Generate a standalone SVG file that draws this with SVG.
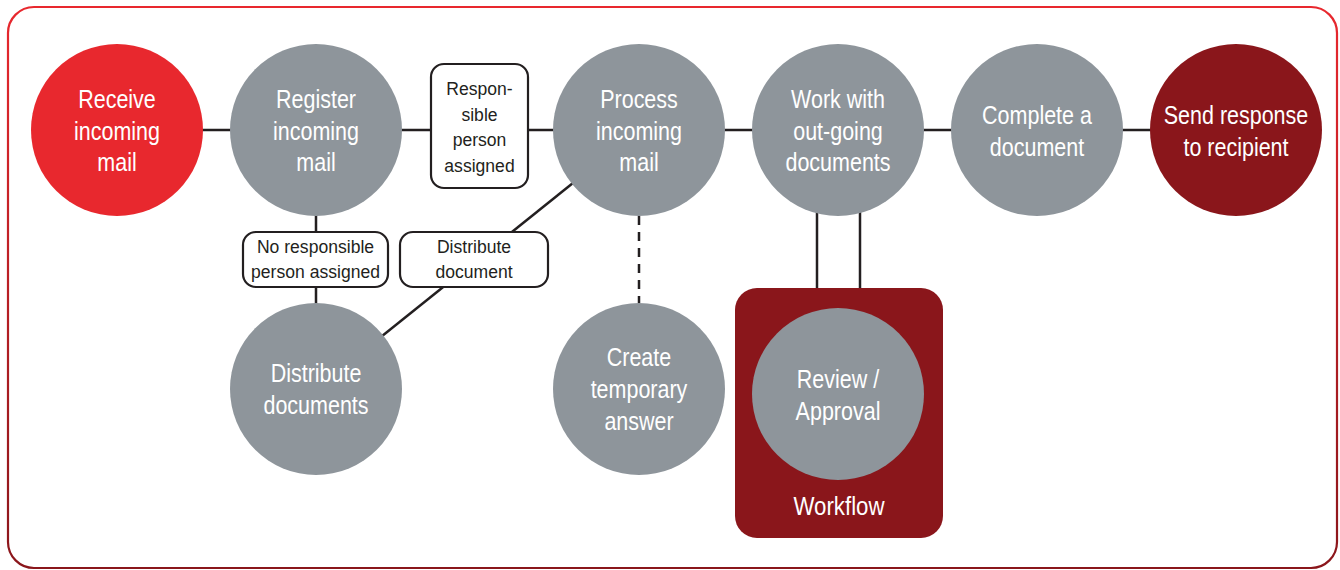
<svg xmlns="http://www.w3.org/2000/svg" width="1340" height="570" viewBox="0 0 1340 570">
  <defs>
    <linearGradient id="frameGrad" x1="0" y1="0" x2="0" y2="1">
      <stop offset="0" stop-color="#e8282e"/>
      <stop offset="1" stop-color="#8a161b"/>
    </linearGradient>
    <style>
      .frame { fill: #ffffff; stroke: url(#frameGrad); stroke-width: 2.2; }
      .wire { stroke: #231f20; stroke-width: 2.5; fill: none; }
      .dash { stroke: #231f20; stroke-width: 2.5; fill: none; stroke-dasharray: 9 7; }
      .grey { fill: #8e959b; }
      .red { fill: #e8282e; }
      .dark { fill: #8a161b; }
      .tag { fill: #ffffff; stroke: #231f20; stroke-width: 2.2; }
      .ct { font-family: "Liberation Sans", Arial, sans-serif; font-size: 25px; fill: #ffffff; text-anchor: middle; }
      .lt { font-family: "Liberation Sans", Arial, sans-serif; font-size: 18.5px; fill: #231f20; text-anchor: middle; }
    </style>
  </defs>

  <rect class="frame" x="8" y="7" width="1329" height="561" rx="26" ry="26"/>

  <!-- connectors -->
  <g id="connectors">
    <line class="wire" x1="117" y1="130" x2="1236" y2="130"/>
    <line class="wire" x1="316" y1="130" x2="316" y2="389"/>
    <line class="wire" x1="639" y1="130" x2="316" y2="389"/>
    <line class="dash" x1="639" y1="216" x2="639" y2="303"/>
    <line class="wire" x1="817" y1="200" x2="817" y2="290"/>
    <line class="wire" x1="860" y1="200" x2="860" y2="290"/>
  </g>

  <g id="workflow">
    <rect class="dark" x="735" y="288" width="208" height="250" rx="22" ry="22"/>
    <g transform="translate(839,0) scale(0.89,1)"><text class="ct" x="0" y="515" font-size="24">Workflow</text></g>
  </g>

  <g id="receive">
    <circle class="red" cx="117" cy="130" r="86"/>
    <g transform="translate(117,0) scale(0.86,1)">
      <text class="ct" x="0" y="108">Receive</text>
      <text class="ct" x="0" y="140">incoming</text>
      <text class="ct" x="0" y="171">mail</text>
    </g>
  </g>

  <g id="register">
    <circle class="grey" cx="316" cy="130" r="86"/>
    <g transform="translate(316,0) scale(0.86,1)">
      <text class="ct" x="0" y="108">Register</text>
      <text class="ct" x="0" y="140">incoming</text>
      <text class="ct" x="0" y="171">mail</text>
    </g>
  </g>

  <g id="process">
    <circle class="grey" cx="639" cy="130" r="86"/>
    <g transform="translate(639,0) scale(0.86,1)">
      <text class="ct" x="0" y="108">Process</text>
      <text class="ct" x="0" y="140">incoming</text>
      <text class="ct" x="0" y="171">mail</text>
    </g>
  </g>

  <g id="work">
    <circle class="grey" cx="838" cy="130" r="86"/>
    <g transform="translate(838,0) scale(0.86,1)">
      <text class="ct" x="0" y="108">Work with</text>
      <text class="ct" x="0" y="140">out-going</text>
      <text class="ct" x="0" y="171">documents</text>
    </g>
  </g>

  <g id="complete">
    <circle class="grey" cx="1037" cy="130" r="86"/>
    <g transform="translate(1037,0) scale(0.86,1)">
      <text class="ct" x="0" y="124">Complete a</text>
      <text class="ct" x="0" y="156">document</text>
    </g>
  </g>

  <g id="send">
    <circle class="dark" cx="1236" cy="130" r="86"/>
    <g transform="translate(1236,0) scale(0.86,1)">
      <text class="ct" x="0" y="124">Send response</text>
      <text class="ct" x="0" y="156">to recipient</text>
    </g>
  </g>

  <g id="distribute">
    <circle class="grey" cx="316" cy="389" r="86"/>
    <g transform="translate(316,0) scale(0.86,1)">
      <text class="ct" x="0" y="382">Distribute</text>
      <text class="ct" x="0" y="414">documents</text>
    </g>
  </g>

  <g id="temporary">
    <circle class="grey" cx="639" cy="389" r="86"/>
    <g transform="translate(639,0) scale(0.86,1)">
      <text class="ct" x="0" y="366">Create</text>
      <text class="ct" x="0" y="398">temporary</text>
      <text class="ct" x="0" y="430">answer</text>
    </g>
  </g>

  <g id="review">
    <circle class="grey" cx="838" cy="394" r="86"/>
    <g transform="translate(838,0) scale(0.86,1)">
      <text class="ct" x="0" y="388">Review /</text>
      <text class="ct" x="0" y="420">Approval</text>
    </g>
  </g>

  <g id="label-assigned">
    <rect class="tag" x="431" y="64" width="97" height="124" rx="13" ry="13"/>
    <g transform="translate(479.5,0) scale(0.95,1)">
      <text class="lt" x="0" y="95">Respon-</text>
      <text class="lt" x="0" y="121">sible</text>
      <text class="lt" x="0" y="146">person</text>
      <text class="lt" x="0" y="172">assigned</text>
    </g>
  </g>

  <g id="label-unassigned">
    <rect class="tag" x="243" y="232" width="145" height="55" rx="13" ry="13"/>
    <g transform="translate(315.5,0) scale(0.95,1)">
      <text class="lt" x="0" y="253">No responsible</text>
      <text class="lt" x="0" y="278">person assigned</text>
    </g>
  </g>

  <g id="label-distribute">
    <rect class="tag" x="400" y="232" width="148" height="55" rx="13" ry="13"/>
    <g transform="translate(474,0) scale(0.95,1)">
      <text class="lt" x="0" y="253">Distribute</text>
      <text class="lt" x="0" y="278">document</text>
    </g>
  </g>
</svg>
